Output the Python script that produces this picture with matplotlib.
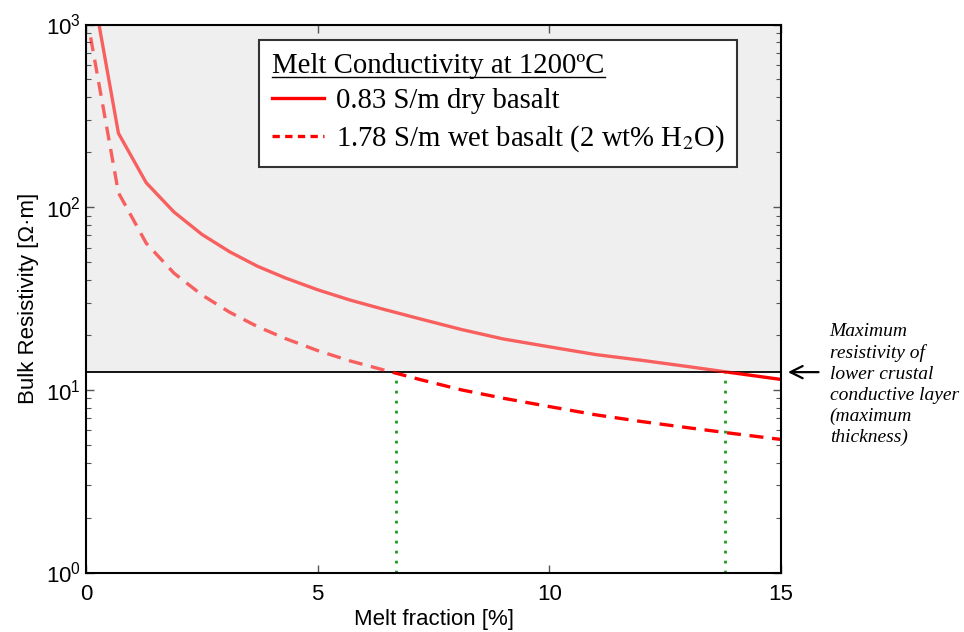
import matplotlib
matplotlib.use("Agg")
import matplotlib.pyplot as plt
from matplotlib.lines import Line2D
from matplotlib.patches import Rectangle

plt.rcParams['font.family'] = ['Liberation Sans', 'DejaVu Sans']
plt.rcParams['mathtext.fontset'] = 'stix'

# ---- data ----
melt = [0.1, 0.7, 1.3, 1.9, 2.5, 3.1, 3.7, 4.3, 5.0, 5.7, 6.4, 7.2, 8.1, 9.0,
        10.0, 11.0, 12.0, 13.0, 14.0, 15.0]
rho_dry = [1800, 254, 136, 94, 71, 57, 47.5, 41, 35.3, 31, 27.7, 24.5, 21.4,
           19.0, 17.2, 15.6, 14.5, 13.4, 12.35, 11.4]
rho_wet = [850, 120, 63.5, 43.5, 33.1, 26.6, 22.2, 19.1, 16.4, 14.4, 12.9, 11.4,
           10.0, 9.0, 8.1, 7.3, 6.7, 6.2, 5.75, 5.35]
threshold = 12.5
cross_x = [6.68, 13.79]
labels = ['0.83 S/m dry basalt', '1.78 S/m wet basalt (2 wt% H$_2$O)']
legend_title = 'Melt Conductivity at 1200ºC'
note = 'Maximum\nresistivity of\nlower crustal\nconductive layer\n(maximum\nthickness)'

fig = plt.figure(figsize=(9.64, 6.32), dpi=100)
ax = fig.add_axes([86/964, 1 - 572.5/632, 695/964, 548/632])
ax.set_yscale('log')
ax.set_xlim(0, 15)
ax.set_ylim(1, 1000)

# shaded region above threshold
ax.axhspan(threshold, 1000, color='#efefef', zorder=0, lw=0)
ax.axhline(threshold, color='black', lw=1.3, zorder=3)

# dotted green verticals
for cx in cross_x:
    ax.plot([cx, cx], [1, threshold], color='#1a9a1a', ls=(0, (1, 2.6)), lw=2.0, zorder=2)

lw = 2.4
dash = (4.2, 2.6)
for ys, style in [(rho_dry, '-'), (rho_wet, '--')]:
    for above in (True, False):
        if above:
            rect = Rectangle((0, threshold), 15, 1000 - threshold, transform=ax.transData)
            kw = dict(color='red', alpha=0.6)
        else:
            rect = Rectangle((0, 0.5), 15, threshold - 0.5, transform=ax.transData)
            kw = dict(color='red', alpha=1.0)
        ln, = ax.plot(melt, ys, lw=lw, zorder=4, **kw)
        if style == '--':
            ln.set_dashes(dash)
        ln.set_clip_path(rect)

# ticks
ax.set_xticks([0, 5, 10, 15])
ax.tick_params(axis='both', which='both', direction='in', top=True, right=True,
               color='#555555', labelsize=16)
ax.tick_params(axis='both', which='major', length=6, width=1)
ax.tick_params(axis='y', which='minor', length=3.5, width=0.8)
ax.tick_params(axis='x', which='major', pad=8)
for sp in ax.spines.values():
    sp.set_linewidth(1.5)
    sp.set_zorder(6)

ax.set_xlabel('Melt fraction [%]', fontsize=16, labelpad=3)
ax.set_ylabel('Bulk Resistivity [Ω·m]', fontsize=16, labelpad=5)

# legend
handles = [Line2D([], [], color='red', lw=2.4),
           Line2D([], [], color='red', lw=2.4, ls=(0, (2.2, 1.6)))]
leg = ax.legend(handles, labels, title=legend_title, loc='upper right',
                bbox_to_anchor=(0.937, 0.972), frameon=True, fancybox=False,
                prop={'family': ['Liberation Serif'], 'size': 20.7},
                title_fontproperties={'family': ['Liberation Serif'], 'size': 20.7},
                handlelength=1.8, handletextpad=0.4, labelspacing=0.32,
                borderpad=0.45, borderaxespad=0, edgecolor='#333333', framealpha=1)
leg._legend_box.align = 'left'
leg.get_frame().set_linewidth(1.5)
leg.set_zorder(10)

# annotation
ax.annotate('', xy=(1.006, threshold), xytext=(1.058, threshold),
            xycoords=('axes fraction', 'data'), textcoords=('axes fraction', 'data'),
            arrowprops=dict(arrowstyle='->', color='black', lw=1.6,
                            mutation_scale=22), annotation_clip=False)
ax.text(1.07, 0.343, note, transform=ax.transAxes, ha='left', va='center',
        fontsize=14, style='italic', family=['Liberation Serif'], linespacing=1.3)

# underline legend title
fig.canvas.draw()
r = fig.canvas.get_renderer()
tb = leg.get_title().get_window_extent(r)
inv = fig.transFigure.inverted()
(x0, y0), (x1, _) = inv.transform([(tb.x0, tb.y0 + 2), (tb.x1, tb.y0)])
fig.add_artist(Line2D([x0, x1], [y0, y0], color='black', lw=1.0, zorder=20))

fig.savefig('out.png', dpi=100)
